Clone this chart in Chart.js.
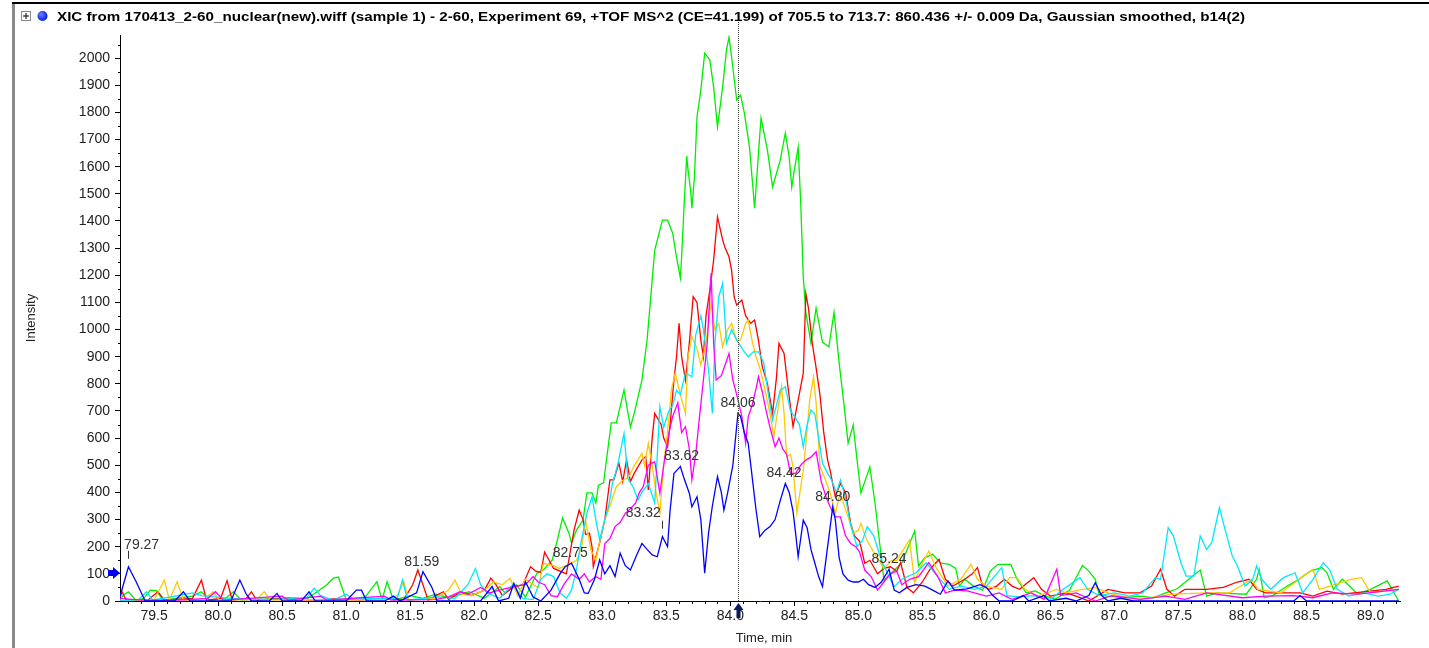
<!DOCTYPE html>
<html>
<head>
<meta charset="utf-8">
<script src="https://cdn.jsdelivr.net/npm/chart.js@4.4.0/dist/chart.umd.min.js"></script>
<style>
  html, body { margin: 0; padding: 0; background: #fff; }
  #wrap { width: 1429px; height: 648px; position: relative; }
</style>
</head>
<body>
<div id="wrap"><canvas id="c" width="1429" height="648"></canvas></div>
<script>
// ---------------- DATA ----------------
const titleText = "XIC from 170413_2-60_nuclear(new).wiff (sample 1) - 2-60, Experiment 69, +TOF MS^2 (CE=41.199) of 705.5 to 713.7: 860.436 +/- 0.009 Da, Gaussian smoothed, b14(2)";
const xAxisTitle = "Time, min";
const yAxisTitle = "Intensity";
const xTickValues = [79.5, 80.0, 80.5, 81.0, 81.5, 82.0, 82.5, 83.0, 83.5, 84.0, 84.5, 85.0, 85.5, 86.0, 86.5, 87.0, 87.5, 88.0, 88.5, 89.0];
const yTickValues = [0, 100, 200, 300, 400, 500, 600, 700, 800, 900, 1000, 1100, 1200, 1300, 1400, 1500, 1600, 1700, 1800, 1900, 2000];
const cursorTime = 84.06;
const markerIntensity = 103;

// peak annotations of the active (blue) trace
const peakTimes  = [79.27, 81.59, 82.75, 83.32, 83.62, 84.06, 84.42, 84.80, 85.24];
const peakHeights = [126, 108, 139, 212, 495, 691, 433, 347, 117];
// apex marks of peaks whose labels were moved / hidden
const apexMarkTimes = [79.30, 83.47];
const apexMarkHeights = [126, 237];

// [time (min), intensity]
const green = [[79.23,0],[79.26,22],[79.30,34],[79.36,2],[79.42,10],[79.47,40],[79.52,38],[79.57,3],[79.80,18],[79.87,34],[79.94,2],[80.06,10],[80.12,34],[80.18,3],[80.40,8],[80.55,12],[80.70,10],[80.85,60],[80.90,84],[80.94,88],[81.00,4],[81.15,15],[81.24,71],[81.28,4],[81.32,71],[81.37,3],[81.50,20],[81.60,10],[81.70,25],[81.80,12],[81.96,34],[82.08,10],[82.20,53],[82.24,30],[82.33,59],[82.40,15],[82.49,102],[82.54,114],[82.61,151],[82.65,225],[82.69,306],[82.74,250],[82.76,214],[82.80,262],[82.85,298],[82.88,398],[82.92,398],[82.95,361],[82.97,427],[83.01,435],[83.04,545],[83.07,656],[83.11,656],[83.17,777],[83.22,641],[83.25,692],[83.31,814],[83.35,961],[83.39,1182],[83.41,1293],[83.47,1403],[83.51,1403],[83.55,1355],[83.58,1267],[83.61,1190],[83.62,1267],[83.64,1466],[83.66,1639],[83.67,1587],[83.69,1514],[83.70,1447],[83.72,1562],[83.74,1783],[83.77,1882],[83.80,2018],[83.84,1993],[83.87,1893],[83.90,1746],[83.94,1893],[83.97,2029],[83.99,2077],[84.01,2004],[84.05,1845],[84.08,1864],[84.11,1797],[84.15,1672],[84.19,1447],[84.22,1650],[84.24,1779],[84.29,1661],[84.33,1525],[84.39,1624],[84.43,1724],[84.46,1635],[84.48,1525],[84.50,1587],[84.53,1672],[84.55,1466],[84.57,1193],[84.59,1061],[84.63,950],[84.67,1079],[84.72,954],[84.77,936],[84.81,1064],[84.85,877],[84.89,715],[84.92,582],[84.96,648],[84.99,519],[85.02,398],[85.09,494],[85.13,361],[85.17,199],[85.20,77],[85.26,104],[85.34,141],[85.44,258],[85.47,129],[85.52,160],[85.58,172],[85.64,140],[85.71,135],[85.76,120],[85.79,55],[85.83,80],[85.90,55],[85.97,40],[86.03,110],[86.09,135],[86.19,135],[86.24,80],[86.31,30],[86.38,37],[86.46,18],[86.54,7],[86.65,40],[86.75,131],[86.80,110],[86.85,80],[86.88,25],[86.94,18],[87.08,12],[87.20,18],[87.30,12],[87.40,30],[87.49,45],[87.58,80],[87.67,114],[87.72,18],[87.80,30],[88.03,25],[88.11,80],[88.13,117],[88.17,12],[88.23,18],[88.35,55],[88.44,80],[88.53,110],[88.62,123],[88.66,104],[88.71,43],[88.78,80],[88.90,25],[89.00,43],[89.13,74],[89.22,0]];

const red = [[79.23,10],[79.25,34],[79.28,5],[79.45,3],[79.53,34],[79.58,3],[79.80,10],[79.87,77],[79.91,3],[80.02,10],[80.07,75],[80.11,3],[80.22,10],[80.26,34],[80.30,3],[80.45,8],[80.60,5],[80.75,3],[80.90,8],[81.10,3],[81.30,10],[81.45,5],[81.52,60],[81.56,114],[81.60,60],[81.64,3],[81.70,20],[81.76,34],[81.80,5],[81.90,34],[81.98,20],[82.08,40],[82.13,84],[82.17,60],[82.22,20],[82.30,50],[82.38,60],[82.44,126],[82.48,110],[82.52,105],[82.55,180],[82.57,163],[82.62,120],[82.67,110],[82.72,100],[82.78,262],[82.82,335],[82.85,300],[82.87,245],[82.90,250],[82.92,200],[82.93,126],[82.98,215],[83.02,300],[83.06,446],[83.09,446],[83.13,508],[83.16,440],[83.19,520],[83.22,440],[83.25,470],[83.28,495],[83.31,520],[83.34,532],[83.36,409],[83.39,600],[83.41,691],[83.46,650],[83.48,600],[83.51,568],[83.53,650],[83.56,814],[83.58,900],[83.60,1023],[83.62,900],[83.65,814],[83.68,950],[83.71,1121],[83.74,1100],[83.77,961],[83.79,900],[83.81,1050],[83.84,1145],[83.87,1256],[83.90,1415],[83.94,1330],[83.96,1300],[83.99,1268],[84.01,1219],[84.03,1121],[84.05,1090],[84.09,1109],[84.12,1050],[84.16,1023],[84.19,1035],[84.22,960],[84.25,863],[84.29,800],[84.33,691],[84.36,820],[84.38,949],[84.42,912],[84.45,790],[84.49,642],[84.53,740],[84.57,839],[84.59,1133],[84.61,1080],[84.64,950],[84.67,860],[84.70,760],[84.73,620],[84.76,519],[84.78,480],[84.82,384],[84.86,433],[84.90,400],[84.94,286],[84.97,240],[85.01,220],[85.05,139],[85.09,150],[85.15,100],[85.20,120],[85.25,126],[85.30,110],[85.33,141],[85.38,50],[85.43,30],[85.50,70],[85.56,117],[85.63,154],[85.68,80],[85.74,55],[85.83,80],[85.89,100],[85.93,123],[85.97,55],[86.02,43],[86.08,55],[86.14,80],[86.20,55],[86.26,43],[86.32,67],[86.37,86],[86.43,43],[86.50,18],[86.62,30],[86.70,18],[86.80,0],[86.95,43],[87.08,30],[87.20,30],[87.29,55],[87.36,117],[87.41,43],[87.47,18],[87.55,43],[87.72,43],[87.85,50],[87.96,70],[88.05,80],[88.11,43],[88.18,30],[88.45,30],[88.55,18],[88.66,36],[88.78,25],[89.12,43],[89.22,55]];

const yellow = [[79.23,0],[79.50,3],[79.58,77],[79.62,3],[79.68,71],[79.73,3],[79.90,8],[79.96,34],[80.01,3],[80.30,5],[80.36,34],[80.41,3],[80.70,5],[81.00,3],[81.30,5],[81.40,20],[81.45,71],[81.49,3],[81.70,10],[81.80,40],[81.85,77],[81.90,25],[81.98,20],[82.08,40],[82.15,70],[82.22,60],[82.28,84],[82.34,20],[82.40,80],[82.46,60],[82.50,50],[82.54,139],[82.62,130],[82.66,120],[82.74,135],[82.80,150],[82.84,200],[82.87,298],[82.91,190],[82.95,151],[82.98,220],[83.02,298],[83.06,350],[83.11,421],[83.15,440],[83.21,458],[83.25,500],[83.28,520],[83.31,544],[83.33,500],[83.36,581],[83.39,500],[83.42,400],[83.45,323],[83.48,500],[83.52,667],[83.54,780],[83.57,839],[83.61,760],[83.65,691],[83.67,900],[83.70,974],[83.74,930],[83.77,870],[83.81,950],[83.85,1096],[83.88,1000],[83.91,1023],[83.94,937],[83.98,1000],[84.01,1023],[84.05,960],[84.08,961],[84.12,1023],[84.14,1035],[84.17,960],[84.20,900],[84.23,860],[84.27,780],[84.31,691],[84.34,605],[84.37,700],[84.40,790],[84.42,690],[84.44,532],[84.47,540],[84.49,495],[84.52,323],[84.55,420],[84.57,480],[84.60,630],[84.62,740],[84.65,826],[84.67,730],[84.70,495],[84.74,450],[84.78,397],[84.82,323],[84.86,400],[84.89,350],[84.92,310],[84.96,250],[85.00,260],[85.02,286],[85.06,230],[85.12,180],[85.20,120],[85.26,150],[85.30,150],[85.34,180],[85.37,203],[85.40,225],[85.44,67],[85.48,120],[85.55,184],[85.61,120],[85.70,55],[85.80,80],[85.88,135],[85.93,80],[86.00,55],[86.12,43],[86.18,86],[86.24,86],[86.30,43],[86.40,18],[86.55,43],[86.62,30],[86.75,43],[86.85,49],[86.95,30],[87.05,18],[87.20,6],[87.45,25],[87.72,30],[87.90,30],[88.07,80],[88.12,43],[88.30,30],[88.55,117],[88.60,43],[88.85,80],[88.93,86],[89.00,30],[89.22,43]];

const cyan = [[79.23,0],[79.38,5],[79.44,34],[79.49,3],[79.80,30],[79.87,20],[80.10,10],[80.40,5],[80.69,10],[80.75,47],[80.80,20],[80.90,3],[81.00,25],[81.05,10],[81.40,10],[81.44,77],[81.48,3],[81.70,15],[81.85,10],[81.95,60],[82.01,120],[82.05,60],[82.10,30],[82.20,10],[82.30,60],[82.38,10],[82.46,5],[82.52,80],[82.57,100],[82.62,90],[82.67,30],[82.72,10],[82.76,40],[82.80,120],[82.84,230],[82.88,323],[82.92,384],[82.95,300],[82.98,225],[83.02,300],[83.05,350],[83.08,433],[83.12,500],[83.17,617],[83.20,450],[83.24,421],[83.28,372],[83.31,400],[83.36,433],[83.41,360],[83.45,716],[83.48,640],[83.52,700],[83.55,720],[83.58,777],[83.61,760],[83.65,840],[83.70,826],[83.73,980],[83.77,1050],[83.79,1000],[83.83,850],[83.86,691],[83.88,950],[83.91,1120],[83.94,1170],[83.97,949],[84.01,1000],[84.05,961],[84.08,940],[84.10,924],[84.14,900],[84.18,918],[84.22,918],[84.26,880],[84.30,753],[84.33,667],[84.36,720],[84.39,777],[84.43,789],[84.47,700],[84.50,680],[84.54,650],[84.57,568],[84.60,650],[84.63,704],[84.66,690],[84.69,600],[84.72,507],[84.76,470],[84.79,446],[84.83,400],[84.86,446],[84.90,380],[84.94,280],[84.99,200],[85.03,220],[85.07,274],[85.12,240],[85.18,150],[85.23,100],[85.28,53],[85.34,80],[85.45,104],[85.53,141],[85.62,90],[85.71,43],[85.80,55],[85.91,43],[86.00,55],[86.12,123],[86.16,20],[86.25,15],[86.37,20],[86.50,6],[86.60,43],[86.73,86],[86.79,43],[86.88,20],[87.00,30],[87.12,18],[87.22,30],[87.32,86],[87.36,80],[87.42,270],[87.46,240],[87.52,140],[87.56,92],[87.62,92],[87.67,240],[87.72,190],[87.76,215],[87.82,344],[87.86,270],[87.92,166],[87.96,130],[88.02,55],[88.08,80],[88.11,129],[88.15,80],[88.22,43],[88.32,86],[88.41,104],[88.47,30],[88.55,80],[88.63,141],[88.68,116],[88.74,43],[88.83,18],[88.95,30],[89.06,18],[89.15,25],[89.22,43]];

const magenta = [[79.23,10],[79.40,3],[79.70,3],[79.92,10],[79.98,34],[80.04,3],[80.50,18],[80.55,3],[80.80,18],[80.85,3],[81.30,18],[81.35,3],[81.70,5],[81.80,15],[81.89,34],[81.95,25],[82.05,50],[82.12,30],[82.20,40],[82.32,55],[82.40,60],[82.46,90],[82.50,70],[82.55,60],[82.60,20],[82.65,16],[82.70,60],[82.76,100],[82.82,80],[82.86,100],[82.90,70],[82.95,90],[82.99,80],[83.02,212],[83.06,230],[83.10,274],[83.14,290],[83.18,323],[83.22,340],[83.26,360],[83.29,400],[83.32,421],[83.36,500],[83.41,513],[83.45,397],[83.48,500],[83.52,617],[83.55,680],[83.59,730],[83.62,620],[83.65,642],[83.68,560],[83.70,446],[83.73,540],[83.76,680],[83.79,814],[83.82,950],[83.85,1207],[83.87,950],[83.89,814],[83.93,830],[83.96,870],[83.99,912],[84.02,814],[84.05,760],[84.09,680],[84.12,581],[84.14,679],[84.17,720],[84.20,780],[84.22,826],[84.25,770],[84.28,700],[84.31,640],[84.35,568],[84.38,600],[84.41,560],[84.44,540],[84.47,470],[84.51,470],[84.55,500],[84.59,519],[84.63,530],[84.67,550],[84.71,440],[84.75,380],[84.78,347],[84.82,310],[84.86,310],[84.90,240],[84.94,212],[84.98,200],[85.01,180],[85.05,114],[85.10,90],[85.15,40],[85.20,70],[85.25,100],[85.30,110],[85.34,60],[85.40,80],[85.47,90],[85.55,141],[85.62,90],[85.68,30],[85.75,40],[85.85,37],[86.00,18],[86.10,30],[86.20,6],[86.35,30],[86.45,6],[86.55,117],[86.58,20],[86.70,30],[86.85,0],[86.98,20],[87.20,6],[87.40,18],[87.55,6],[87.72,30],[88.00,12],[88.18,18],[88.40,20],[88.55,12],[88.70,30],[88.90,25],[89.22,43]];

const blue = [[79.23,10],[79.30,126],[79.36,71],[79.43,0],[79.66,0],[79.73,34],[79.78,0],[80.10,0],[80.17,77],[80.22,25],[80.26,0],[80.40,0],[80.46,28],[80.50,0],[80.65,0],[80.71,34],[80.76,0],[81.00,0],[81.08,40],[81.12,40],[81.16,0],[81.30,0],[81.37,18],[81.42,0],[81.55,30],[81.60,108],[81.67,50],[81.71,0],[82.05,0],[82.14,53],[82.19,0],[82.27,10],[82.31,65],[82.36,10],[82.40,71],[82.46,15],[82.52,0],[82.60,40],[82.67,100],[82.71,126],[82.76,139],[82.82,80],[82.86,30],[82.89,28],[82.94,80],[82.98,151],[83.02,100],[83.06,130],[83.10,90],[83.14,176],[83.18,130],[83.22,114],[83.27,170],[83.31,212],[83.35,190],[83.39,170],[83.43,163],[83.47,237],[83.51,200],[83.53,335],[83.56,470],[83.61,495],[83.64,450],[83.68,397],[83.70,347],[83.74,384],[83.77,300],[83.80,102],[83.83,250],[83.86,350],[83.90,458],[83.93,400],[83.95,335],[83.98,400],[84.02,500],[84.06,691],[84.08,680],[84.11,620],[84.14,581],[84.17,460],[84.20,340],[84.23,237],[84.27,260],[84.31,274],[84.35,300],[84.39,370],[84.43,433],[84.46,400],[84.49,330],[84.51,250],[84.53,163],[84.57,298],[84.60,270],[84.63,190],[84.66,140],[84.69,90],[84.72,53],[84.76,200],[84.80,347],[84.82,300],[84.85,160],[84.88,100],[84.92,77],[84.96,70],[85.00,70],[85.04,80],[85.08,60],[85.13,50],[85.18,70],[85.24,117],[85.28,40],[85.32,30],[85.38,50],[85.45,60],[85.52,55],[85.58,40],[85.64,25],[85.70,74],[85.75,40],[85.85,45],[85.95,60],[86.00,50],[86.05,20],[86.10,0],[86.20,0],[86.29,20],[86.33,0],[86.45,20],[86.49,0],[86.62,10],[86.70,0],[86.80,20],[86.85,67],[86.90,20],[86.95,0],[87.05,10],[87.15,0],[88.40,0],[88.45,20],[88.50,0],[89.22,0]];

// ---------------- CHART ----------------
const X_MIN = 79.234, X_MAX = 89.23, Y_MAX = 2085;
const FONT = '"Liberation Sans", Arial, sans-serif';
const toPts = arr => arr.map(p => ({x: p[0], y: p[1]}));

const seriesDefs = [
  {data: blue,    color: '#0000ff'},
  {data: magenta, color: '#ff00ff'},
  {data: cyan,    color: '#00e8ff'},
  {data: yellow,  color: '#ffc800'},
  {data: red,     color: '#ff0000'},
  {data: green,   color: '#00ee00'}
];

const labelNudge = {0: {dx: 17, dy: -12}, 3: {dx: 0, dy: -20}};

const decor = {
  id: 'decor',
  afterDraw(chart) {
    const ctx = chart.ctx, xs = chart.scales.x, ys = chart.scales.y, a = chart.chartArea;
    ctx.save();
    // frame
    ctx.fillStyle = '#8a8a8a'; ctx.fillRect(12, 3, 3, 645);
    ctx.fillStyle = '#000'; ctx.fillRect(12, 2, 1417, 2);
    // + box
    ctx.strokeStyle = '#8a8a8a'; ctx.lineWidth = 1;
    ctx.strokeRect(21.5, 11.5, 9, 9);
    ctx.strokeStyle = '#000';
    ctx.beginPath(); ctx.moveTo(23, 16); ctx.lineTo(29, 16); ctx.moveTo(26, 13); ctx.lineTo(26, 19); ctx.stroke();
    // blue circle
    const g = ctx.createRadialGradient(41, 14, 1, 42, 16, 6);
    g.addColorStop(0, '#5a7bff'); g.addColorStop(1, '#0010e0');
    ctx.fillStyle = g; ctx.beginPath(); ctx.arc(42.5, 16, 5, 0, Math.PI * 2); ctx.fill();
    // title
    ctx.fillStyle = '#000'; ctx.font = 'bold 13px ' + FONT; ctx.textBaseline = 'alphabetic'; ctx.textAlign = 'left';
    const w = ctx.measureText(titleText).width;
    ctx.translate(57, 21); ctx.scale(1188 / w, 1); ctx.fillText(titleText, 0, 0);
    ctx.setTransform(1, 0, 0, 1, 0, 0);
    // axis titles
    ctx.fillStyle = '#222'; ctx.font = '13px ' + FONT; ctx.textAlign = 'center'; ctx.textBaseline = 'middle';
    ctx.fillText(xAxisTitle, (a.left + a.right) / 2 + 4, 638);
    ctx.save(); ctx.translate(31, (a.top + a.bottom) / 2); ctx.rotate(-Math.PI / 2); ctx.fillText(yAxisTitle, 0, 0); ctx.restore();
    // minor ticks
    ctx.strokeStyle = '#000'; ctx.lineWidth = 1; ctx.beginPath();
    for (let v = 50; v < Y_MAX; v += 100) { const py = Math.round(ys.getPixelForValue(v)) + 0.5; ctx.moveTo(a.left - 2, py); ctx.lineTo(a.left, py); }
    for (let k = Math.ceil(X_MIN * 10); k <= Math.floor(X_MAX * 10); k++) {
      if (k % 5 === 0) continue;
      const px = Math.round(xs.getPixelForValue(k / 10)) + 0.5; ctx.moveTo(px, a.bottom); ctx.lineTo(px, a.bottom + 3);
    }
    ctx.stroke();
    // cursor dotted line
    const cx = Math.round(xs.getPixelForValue(cursorTime)) + 0.5;
    ctx.strokeStyle = '#444'; ctx.setLineDash([1, 1]); ctx.beginPath(); ctx.moveTo(cx, 22); ctx.lineTo(cx, a.bottom); ctx.stroke(); ctx.setLineDash([]);
    // bottom arrow
    ctx.fillStyle = '#0a1a5a'; ctx.beginPath();
    ctx.moveTo(cx, a.bottom + 2); ctx.lineTo(cx + 5, a.bottom + 9); ctx.lineTo(cx + 2, a.bottom + 9); ctx.lineTo(cx + 2, a.bottom + 17);
    ctx.lineTo(cx - 2, a.bottom + 17); ctx.lineTo(cx - 2, a.bottom + 9); ctx.lineTo(cx - 5, a.bottom + 9); ctx.closePath(); ctx.fill();
    // left arrow
    const my = ys.getPixelForValue(markerIntensity);
    ctx.fillStyle = '#0000ee'; ctx.beginPath();
    ctx.moveTo(a.left, my); ctx.lineTo(a.left - 7, my - 6); ctx.lineTo(a.left - 7, my - 3); ctx.lineTo(a.left - 12, my - 3);
    ctx.lineTo(a.left - 12, my + 3); ctx.lineTo(a.left - 7, my + 3); ctx.lineTo(a.left - 7, my + 6); ctx.closePath(); ctx.fill();
    // peak labels
    ctx.font = '14px ' + FONT; ctx.fillStyle = '#333'; ctx.textAlign = 'center'; ctx.textBaseline = 'middle';
    peakTimes.forEach((t, i) => {
      const px = xs.getPixelForValue(t), py = ys.getPixelForValue(peakHeights[i]);
      const n = labelNudge[i] || {dx: 0, dy: 0};
      ctx.fillText(t.toFixed(2), px + n.dx, py - 10 + n.dy);
    });
    // apex marks
    apexMarkTimes.forEach((t, i) => {
      const px = Math.round(xs.getPixelForValue(t)), py = ys.getPixelForValue(apexMarkHeights[i]);
      ctx.fillRect(px, py - 16, 1, 8);
    });
    ctx.restore();
  }
};

new Chart(document.getElementById('c'), {
  type: 'line',
  data: {
    datasets: seriesDefs.map(s => ({
      data: toPts(s.data), borderColor: s.color, borderWidth: 1.3,
      pointRadius: 0, tension: 0, fill: false
    }))
  },
  options: {
    responsive: false, animation: false, devicePixelRatio: 1,
    layout: {padding: {top: 35, right: 29, left: 0, bottom: 0}},
    plugins: {legend: {display: false}, tooltip: {enabled: false}, title: {display: false}},
    scales: {
      x: {
        type: 'linear', min: X_MIN, max: X_MAX,
        afterFit: s => { s.height = 47; },
        afterBuildTicks: s => { s.ticks = xTickValues.map(v => ({value: v})); },
        ticks: {autoSkip: false, maxRotation: 0, padding: 2, color: '#222', font: {family: FONT, size: 14},
                callback: v => Number(v).toFixed(1)},
        grid: {drawOnChartArea: false, drawTicks: true, tickLength: 5, color: '#000'},
        border: {display: true, color: '#000', width: 1}
      },
      y: {
        type: 'linear', min: 0, max: Y_MAX,
        afterFit: s => { s.width = 120; },
        afterBuildTicks: s => { s.ticks = yTickValues.map(v => ({value: v})); },
        ticks: {autoSkip: false, padding: 5, color: '#222', font: {family: FONT, size: 14},
                callback: v => String(v)},
        grid: {drawOnChartArea: false, drawTicks: true, tickLength: 5, color: '#000'},
        border: {display: true, color: '#000', width: 1}
      }
    }
  },
  plugins: [decor]
});
</script>
</body>
</html>
